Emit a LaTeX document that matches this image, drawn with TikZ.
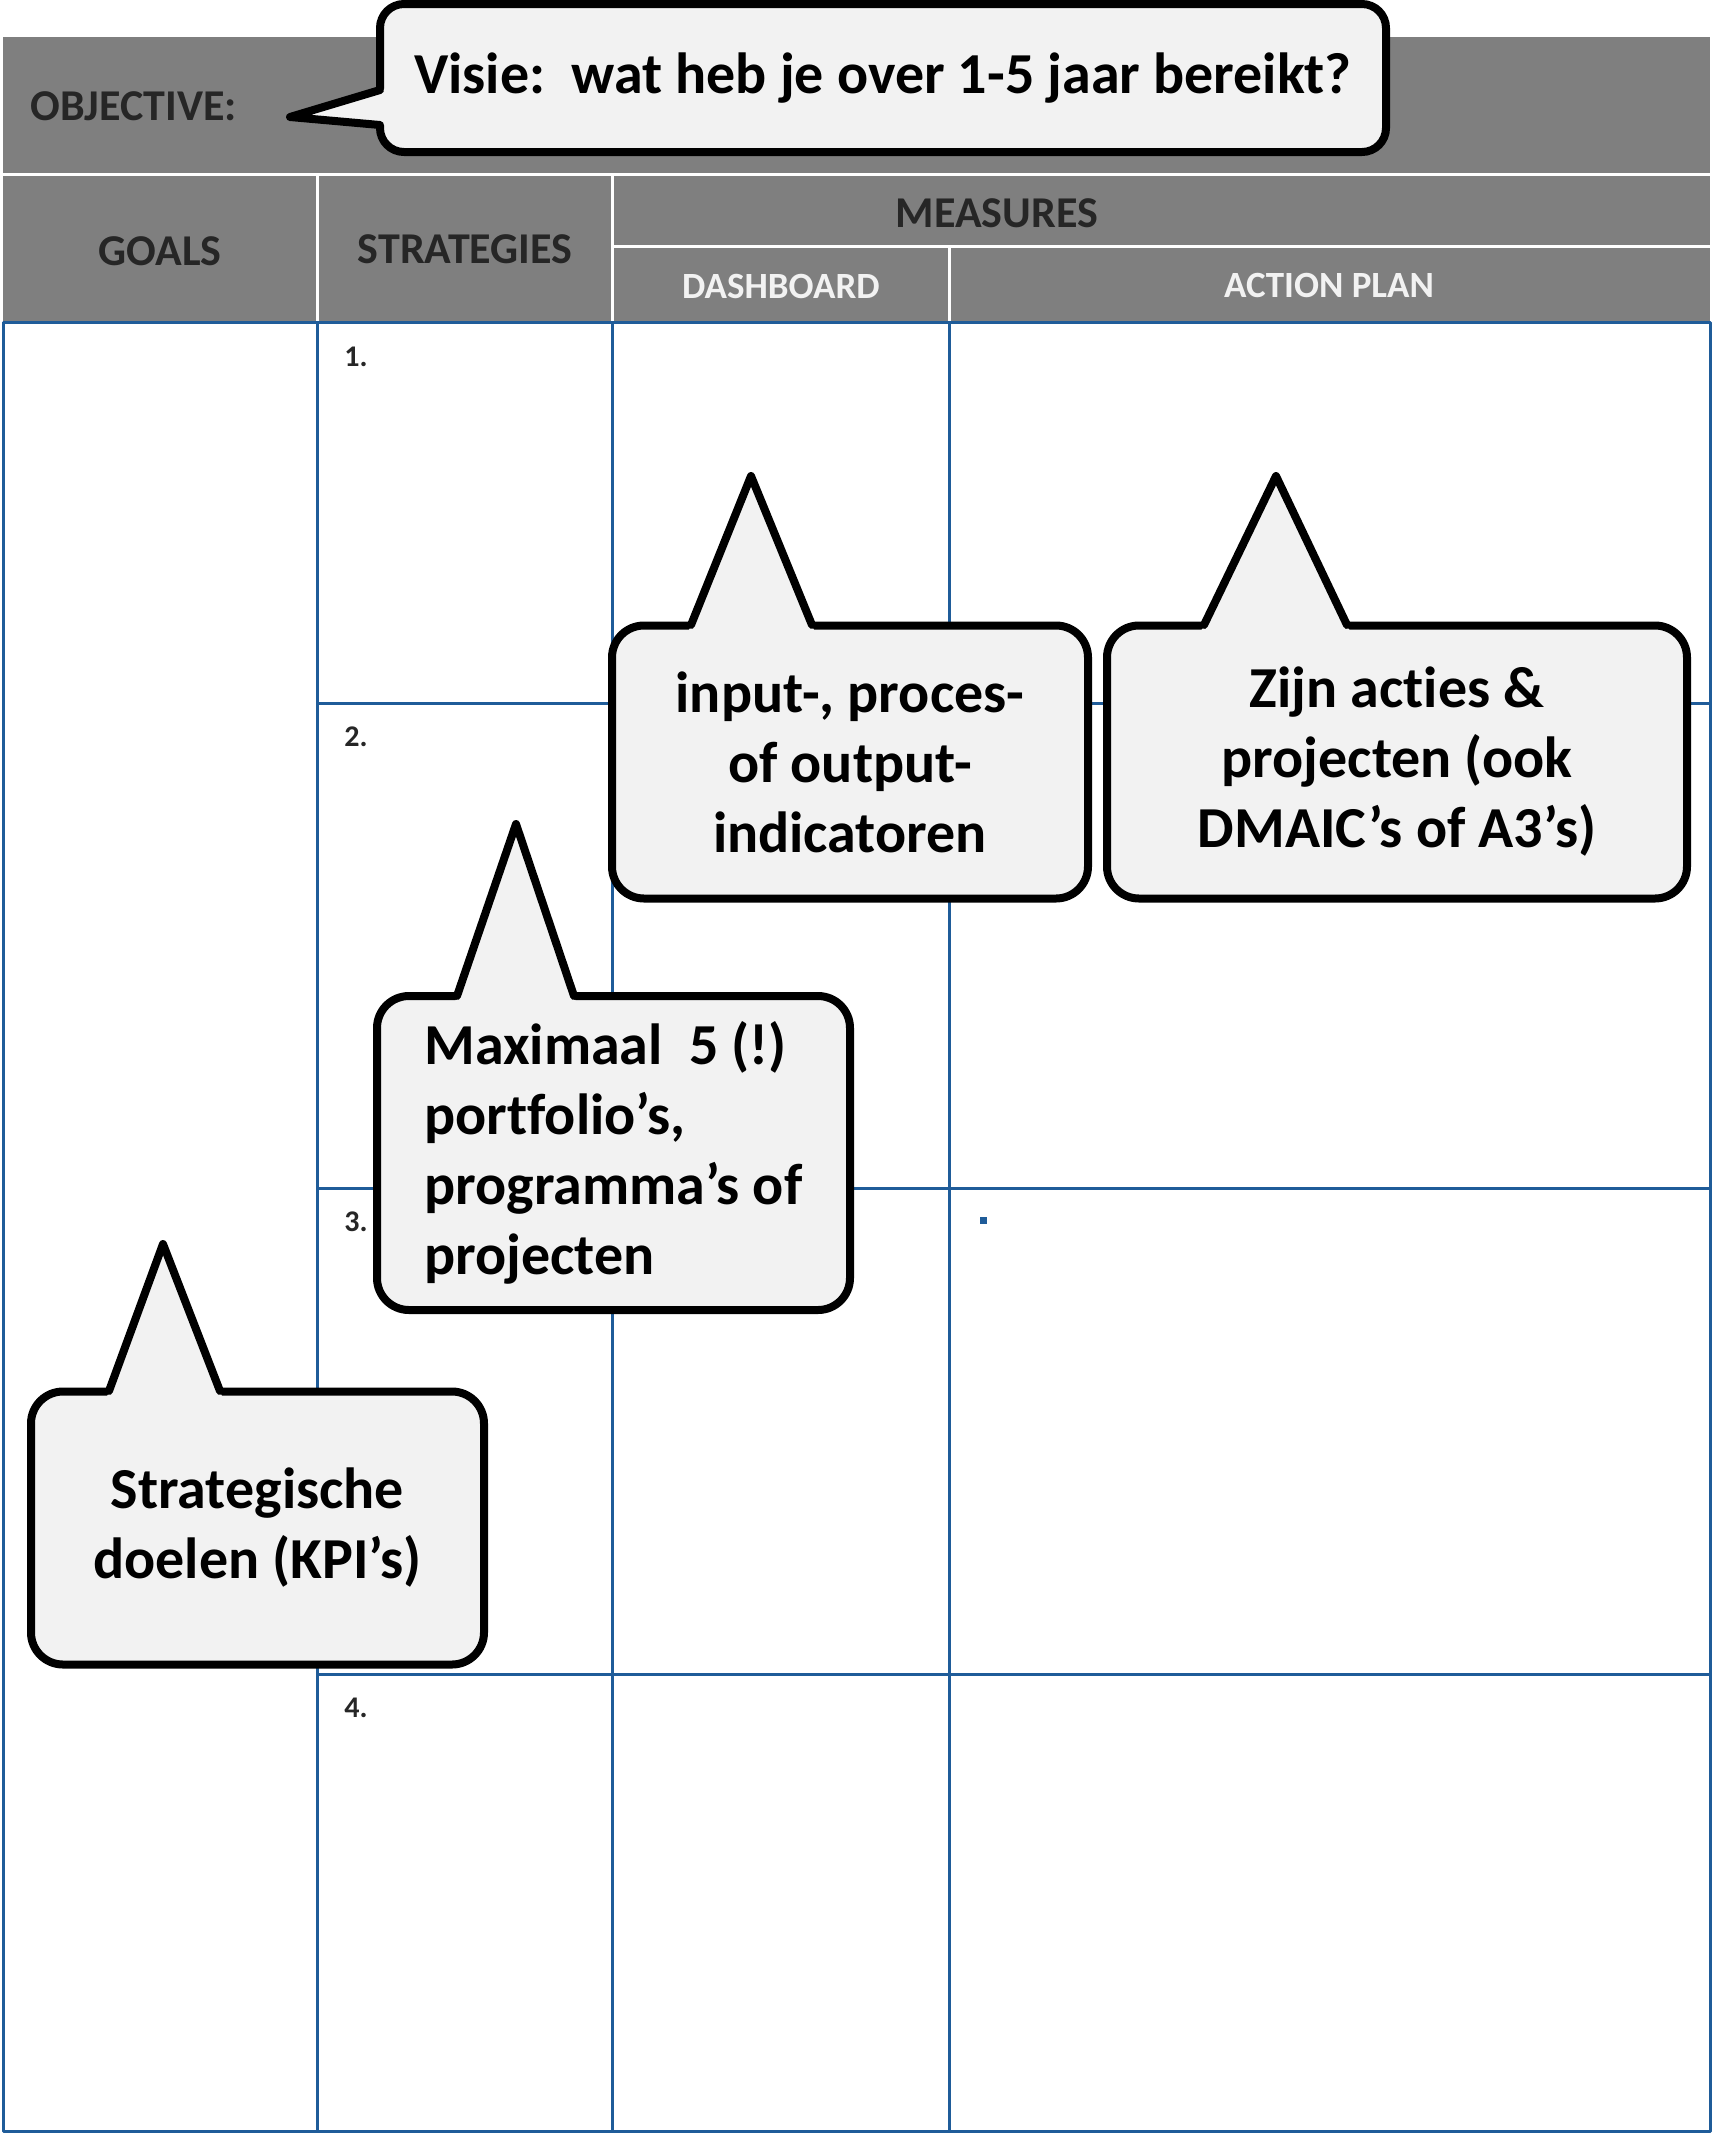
\documentclass[tikz,border=0pt]{standalone}
\usepackage{fontspec}
\setmainfont{Carlito}[Ligatures={TeX,NoCommon}]
\usetikzlibrary{calc}
\definecolor{headgray}{RGB}{127,127,127}
\definecolor{gridblue}{RGB}{31,92,153}
\definecolor{bubblefill}{RGB}{242,242,242}
\definecolor{headtext}{RGB}{38,38,38}
\definecolor{subtext}{RGB}{242,242,242}
\frenchspacing
\begin{document}
\begin{tikzpicture}[x=0.5pt,y=-0.5pt,line join=round,
  grid/.style={draw=gridblue,line width=1.5pt},
  sep/.style={draw=white,line width=1.5pt},
  head/.style={font=\bfseries\fontsize{22}{26}\selectfont,text=headtext,anchor=base,inner sep=0pt},
  subhead/.style={font=\bfseries\fontsize{18.5}{22}\selectfont,text=subtext,anchor=base,inner sep=0pt},
  rownum/.style={font=\bfseries\fontsize{15}{18}\selectfont,text=headtext,anchor=base west,inner sep=0pt},
  bubble/.style={draw=black,line width=4pt,fill=bubblefill,rounded corners=16pt,inner sep=0pt,align=center,font=\bfseries\fontsize{29}{35}\selectfont},
  tail/.style={fill=bubblefill},
  tailline/.style={draw=black,line width=4pt,line join=round,line cap=round}]
\useasboundingbox (0,0) rectangle (1713,2133);
%% header bands
\fill[headgray] (3,37) rectangle (1710,173);
\fill[headgray] (3,176) rectangle (1710,322);
\draw[sep] (317,176) -- (317,322);
\draw[sep] (612,176) -- (612,322);
\draw[sep] (612,246) -- (1710,246);
\draw[sep] (949,246) -- (949,322);
\node (objective) at (30,120) [head,anchor=base west] {OBJECTIVE:};
\node (goals) at (160,265) [head] {GOALS};
\node (strategies) at (465,263) [head] {STRATEGIES};
\node (measures) at (997,227) [head] {MEASURES};
\node (dashboard) at (781,298) [subhead] {DASHBOARD};
\node (actionplan) at (1329,297) [subhead] {ACTION PLAN};
%% table
\draw[grid] (3,322) rectangle (1710,2131);
\draw[grid] (317,322) -- (317,2131);
\draw[grid] (612,322) -- (612,2131);
\draw[grid] (949,322) -- (949,2131);
\draw[grid] (317,703) -- (1710,703);
\draw[grid] (317,1188) -- (1710,1188);
\draw[grid] (317,1674) -- (1710,1674);
\node (num1) at (344,366) [rownum] {1.};
\node (num2) at (344,746) [rownum] {2.};
\node (num3) at (344,1231) [rownum] {3.};
\node (num4) at (344,1717) [rownum] {4.};
\fill[gridblue] (980,1217) rectangle (987,1224);
%% callouts
\node (visie) at (883,78) [bubble,rounded corners=12pt,minimum width=503pt,minimum height=74pt] {Visie:~ wat heb je over 1-5 jaar bereikt?};
\coordinate (visie tip) at (290,117);
\coordinate (visie b1) at (380,90);
\coordinate (visie b2) at (380,125);
\fill[tail] ($(visie tip)!1.15!(visie b1)$) -- (visie tip) -- ($(visie tip)!1.15!(visie b2)$) -- cycle;
\draw[tailline] (visie b1) -- (visie tip) -- (visie b2);
%
\node (inputs) at (850,762) [bubble,minimum width=238pt,minimum height=136.5pt] {input-, proces-\\of output-\\indicatoren};
\coordinate (inputs tip) at (751,476);
\coordinate (inputs b1) at (691,625);
\coordinate (inputs b2) at (812,625);
\fill[tail] ($(inputs tip)!1.12!(inputs b1)$) -- (inputs tip) -- ($(inputs tip)!1.12!(inputs b2)$) -- cycle;
\draw[tailline] (inputs b1) -- (inputs tip) -- (inputs b2);
%
\node (acties) at (1397,762) [bubble,minimum width=290pt,minimum height=136.5pt] {Zijn acties \&\\projecten (ook\\DMAIC's of A3's)};
\coordinate (acties tip) at (1276,476);
\coordinate (acties b1) at (1204,625);
\coordinate (acties b2) at (1347,625);
\fill[tail] ($(acties tip)!1.12!(acties b1)$) -- (acties tip) -- ($(acties tip)!1.12!(acties b2)$) -- cycle;
\draw[tailline] (acties b1) -- (acties tip) -- (acties b2);
%
\node (maximaal) at (613.5,1153) [bubble,align=left,minimum width=236.5pt,minimum height=157pt] {Maximaal~ 5 (!)\\portfolio's,\\programma's of\\projecten};
\coordinate (maximaal tip) at (516,824);
\coordinate (maximaal b1) at (457,996);
\coordinate (maximaal b2) at (574,996);
\fill[tail] ($(maximaal tip)!1.12!(maximaal b1)$) -- (maximaal tip) -- ($(maximaal tip)!1.12!(maximaal b2)$) -- cycle;
\draw[tailline] (maximaal b1) -- (maximaal tip) -- (maximaal b2);
%
\node (doelen) at (257.5,1528) [bubble,minimum width=226.5pt,minimum height=136.5pt] {Strategische\\doelen (KPI's)};
\coordinate (doelen tip) at (163,1244);
\coordinate (doelen b1) at (109,1391);
\coordinate (doelen b2) at (220,1391);
\fill[tail] ($(doelen tip)!1.12!(doelen b1)$) -- (doelen tip) -- ($(doelen tip)!1.12!(doelen b2)$) -- cycle;
\draw[tailline] (doelen b1) -- (doelen tip) -- (doelen b2);
%
\end{tikzpicture}
\end{document}
